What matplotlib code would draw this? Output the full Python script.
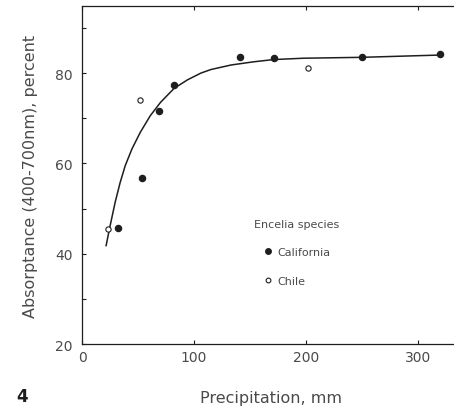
#!/usr/bin/python3

import matplotlib
matplotlib.use('Agg')
import matplotlib.pyplot as plt
from matplotlib.ticker import MultipleLocator

# precipitation (mm) and absorptance (%)
cal_precip = [31.6, 53.8, 68.9, 82.1, 141.0, 171.7, 250.4, 320.4]
cal_absorp = [45.8, 56.8, 71.6, 77.4, 83.6, 83.3, 83.5, 84.2]

chile_precip = [23.4, 51.4, 201.7]
chile_absorp = [45.5, 74.1, 81.1]

# hand-fitted curve, points
curve_precip = [21.4, 25.0, 29.5, 34.0, 38.5, 44.5, 52.0, 61.0, 70.0, 82.1,
                94.1, 106.1, 115.2, 133.2, 153.2, 171.2, 197.9, 250.4, 319.6]
curve_absorp = [41.8, 46.2, 51.4, 55.8, 59.5, 63.2, 66.9, 70.6, 73.5, 76.6,
                78.5, 80.0, 80.8, 81.8, 82.5, 83.0, 83.3, 83.5, 84.0]

x_ticks = [0, 100, 200, 300]
y_ticks = [20, 40, 60, 80]

TEXT = '#4a4a4a'
INK = '#1e1e1e'


def main():
    plt.rcParams.update({'font.family': 'DejaVu Sans', 'font.size': 10})
    fig = plt.figure(figsize=(4.54, 4.10), dpi=100)
    ax = fig.add_axes([0.181, 0.1585, 0.83, 0.8237])

    ax.plot(curve_precip, curve_absorp, color=INK, linewidth=1.1, zorder=2,
            solid_joinstyle='round')
    ax.plot(cal_precip, cal_absorp, 'o', color=INK, markersize=4.4,
            linestyle='none', label='California', zorder=3)
    ax.plot(chile_precip, chile_absorp, 'o', markerfacecolor='white',
            markeredgecolor=INK, markeredgewidth=0.8, markersize=3.8,
            linestyle='none', label='Chile', zorder=3)

    ax.set_xlim(0, 337)
    ax.set_ylim(20, 94.8)
    ax.set_xticks(x_ticks)
    ax.set_yticks(y_ticks)
    ax.yaxis.set_minor_locator(MultipleLocator(10))
    ax.tick_params(axis='both', which='both', direction='in', length=3,
                   width=0.8, colors=INK, labelcolor=TEXT, labelsize=10)
    ax.tick_params(axis='x', top=True, pad=4)
    ax.tick_params(axis='y', pad=7)
    ax.spines['right'].set_visible(False)
    for s in ('left', 'bottom', 'top'):
        ax.spines[s].set_color(INK)
        ax.spines[s].set_linewidth(0.9)

    ax.set_xlabel('Precipitation, mm', color=TEXT, fontsize=11.5, labelpad=19)
    ax.set_ylabel('Absorptance (400-700nm), percent', color=TEXT,
                  fontsize=11.5, labelpad=12)

    leg = ax.legend(title='Encelia species', loc='upper center',
                    bbox_to_anchor=(0.57, 0.40), frameon=False, fontsize=8,
                    title_fontsize=8, handletextpad=0.4, handlelength=0.8,
                    labelspacing=1.65, markerscale=0.9)
    leg.get_title().set_color(TEXT)
    for t in leg.get_texts():
        t.set_color(TEXT)

    fig.text(22 / 454, 1 - 397 / 410, '4', fontsize=12, fontweight='bold',
             color=INK, ha='center', va='center')

    fig.savefig('out.png', dpi=100)


if __name__ == '__main__':
    main()
